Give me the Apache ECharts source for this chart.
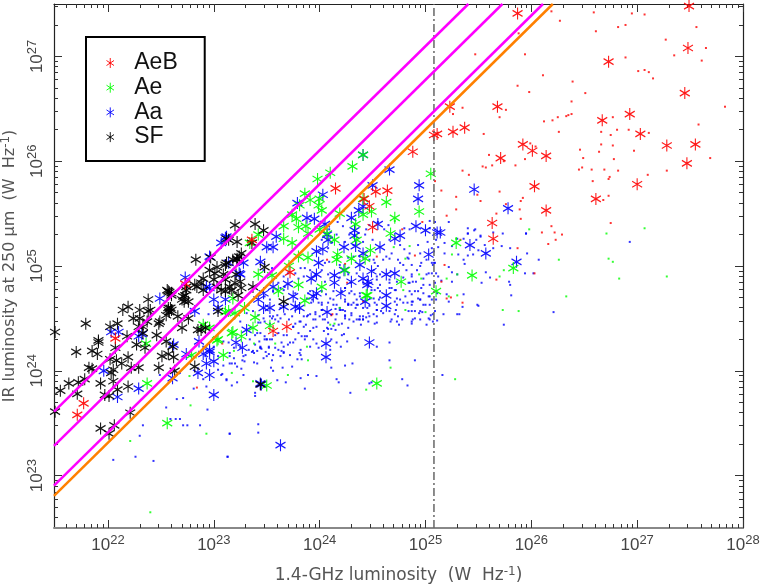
<!doctype html>
<html lang="en">
<head>
<meta charset="UTF-8">
<title>IR vs radio luminosity</title>
<script src="https://cdn.jsdelivr.net/npm/echarts@6/dist/echarts.min.js"></script>
<style>html,body{margin:0;padding:0;background:#fff}#main{width:763px;height:586px}</style>
</head>
<body>
<div id="main"></div>
<script>
// every point is [log10 L_1.4GHz, log10 L_250um]
var aebStars = [[25.87,27.41],[27.49,27.48],[27.48,27.08],[26.73,26.95],[27.45,26.65],[26.93,26.45],[26.67,26.39],[25.68,26.52],[25.23,26.52],[25.37,26.32],[25.26,26.28],[25.11,26.26],[25.08,26.25],[27.03,26.26],[27.28,26.15],[27.55,26.16],[27.47,25.98],[25.92,26.16],[26.01,26.10],[26.14,26.05],[25.71,26.03],[27.0,25.78],[26.03,25.76],[26.61,25.64],[26.14,25.53],[25.63,25.41],[25.64,25.26],[24.88,26.09],[24.15,25.74],[24.53,25.71],[24.64,25.72],[24.42,25.64],[24.47,25.57],[24.5,25.37],[23.36,25.25],[23.72,24.94],[23.56,24.38],[23.69,24.42],[22.07,24.31],[22.73,24.83],[21.71,23.58],[21.77,23.69]];
var aebDots = [[26.19,27.43],[26.27,27.34],[26.59,27.42],[26.95,27.41],[27.07,27.40],[26.61,27.24],[26.82,27.28],[26.89,27.30],[27.56,27.28],[27.27,27.16],[27.65,27.08],[25.88,27.22],[25.47,27.02],[25.94,27.02],[26.89,26.99],[27.35,27.01],[27.61,26.96],[27.01,26.86],[27.07,26.87],[27.11,26.85],[27.15,26.79],[26.11,26.82],[26.39,26.76],[25.87,26.72],[25.98,26.66],[26.51,26.65],[26.38,26.57],[27.83,26.52],[25.35,26.51],[25.76,26.49],[25.26,26.45],[26.38,26.45],[26.33,26.43],[26.35,26.44],[26.25,26.42],[26.20,26.39],[26.12,26.38],[25.70,26.42],[26.77,26.42],[27.58,26.35],[26.81,26.30],[26.92,26.30],[27.11,26.27],[26.66,26.28],[26.75,26.25],[26.26,26.28],[25.55,26.26],[26.66,26.16],[26.77,26.15],[25.99,26.17],[26.04,26.14],[26.46,26.11],[26.97,26.10],[26.64,26.09],[25.60,26.06],[26.49,26.03],[26.78,26.02],[27.69,26.03],[25.94,26.02],[25.74,26.00],[25.85,25.96],[25.63,25.96],[25.54,25.95],[25.57,25.94],[26.45,25.92],[26.48,25.94],[26.57,25.92],[26.69,25.92],[26.82,25.91],[27.28,25.91],[25.35,25.91],[25.41,25.87],[27.10,25.87],[26.74,25.85],[26.73,25.83],[26.58,25.81],[25.09,25.81],[25.15,25.72],[25.70,25.71],[26.73,25.67],[25.49,25.68],[25.29,25.66],[25.92,25.65],[25.90,25.62],[26.68,25.63],[25.52,25.62],[25.76,25.59],[25.89,25.54],[25.29,25.54],[25.67,25.50],[25.20,25.48],[25.90,25.45],[26.75,25.41],[26.19,25.38],[26.10,25.32],[26.22,25.32],[26.29,25.30],[26.16,25.21],[26.23,25.25],[25.87,25.17],[25.33,25.25],[26.03,24.93],[25.67,24.87],[25.18,25.01],[25.15,24.85],[25.20,24.69],[25.24,24.70],[25.35,24.65],[24.78,25.35],[24.97,25.42],[24.90,25.10],[24.07,25.06],[24.24,25.02],[24.26,24.84],[24.41,24.66],[24.12,24.54],[24.54,25.09],[24.11,24.53],[23.08,24.26],[22.84,23.84]];
var aeStars = [[24.31,25.95],[24.10,25.89],[23.98,25.83],[24.41,26.06],[25.05,25.88],[23.86,25.69],[23.91,25.63],[24.0,25.64],[23.99,25.58],[24.02,25.53],[23.81,25.58],[23.74,25.49],[23.78,25.45],[23.66,25.38],[23.80,25.37],[23.87,25.38],[24.0,25.35],[23.66,25.26],[23.74,25.22],[23.89,25.31],[23.42,25.30],[23.34,25.22],[24.63,25.61],[24.41,25.64],[24.49,25.52],[24.19,25.50],[24.71,25.46],[24.94,25.52],[24.67,25.31],[24.34,25.40],[24.41,25.49],[24.14,25.25],[24.07,25.31],[24.17,25.11],[24.16,25.06],[24.35,25.25],[24.30,25.07],[24.48,25.15],[24.43,25.07],[23.80,25.09],[23.89,25.08],[23.71,25.0],[23.42,24.92],[23.55,24.91],[23.80,24.82],[24.02,24.80],[23.61,24.76],[24.77,24.85],[24.44,24.72],[25.10,24.76],[24.24,24.96],[25.29,25.22],[25.44,24.91],[25.83,24.98],[23.18,24.37],[23.26,24.33],[23.37,24.41],[23.39,24.51],[23.53,24.43],[23.14,24.57],[23.09,24.15],[23.50,23.86],[24.54,23.88],[24.45,24.72],[23.86,24.67],[22.37,23.88],[22.56,23.50],[23.03,24.29],[23.17,24.36],[22.36,24.26],[23.18,24.69],[23.11,24.56],[22.90,24.44],[22.96,24.41],[23.20,24.55],[23.04,24.30],[23.29,24.60],[22.79,24.15]];
var aeDots = [[26.71,25.31],[26.73,25.07],[26.77,25.04],[26.26,25.06],[26.83,24.88],[27.28,24.90],[26.33,24.71],[25.73,24.58],[25.88,24.57],[25.28,23.92],[25.74,24.96],[25.70,24.90],[25.30,24.92],[25.20,24.88],[25.30,24.72],[25.22,24.71],[25.25,25.11],[25.98,25.35],[27.07,25.36],[25.29,25.26],[22.40,22.65],[22.21,23.33],[22.93,23.40],[22.78,23.67],[22.77,23.95],[23.88,24.23],[23.89,24.10],[24.67,24.03],[23.70,23.96],[24.44,23.82],[23.17,23.98],[23.19,24.19],[23.58,24.26],[23.38,24.26],[24.14,24.45],[25.0,24.56],[24.81,24.58],[23.37,23.90],[24.81,25.07],[24.85,25.19],[24.70,25.18],[24.94,24.92],[24.96,24.88],[24.71,25.43],[24.79,24.77],[24.19,24.60],[24.10,24.44]];
var aaStars = [[25.46,25.73],[25.78,25.55],[25.14,25.32],[25.42,25.20],[25.57,25.12],[25.86,25.04],[24.41,26.06],[24.66,25.92],[24.50,25.77],[24.94,25.77],[24.93,25.64],[24.03,25.68],[23.79,25.60],[23.88,25.46],[23.95,25.45],[24.37,25.53],[24.30,25.46],[24.41,25.57],[24.55,25.40],[24.91,25.38],[25.0,25.34],[25.11,25.32],[24.05,25.40],[24.33,25.34],[24.33,25.29],[24.07,25.30],[24.08,25.25],[23.59,25.28],[23.56,25.18],[23.50,25.18],[24.71,25.26],[24.76,25.29],[23.97,25.14],[24.03,25.16],[24.23,25.18],[24.34,25.19],[24.57,25.18],[25.03,25.11],[23.99,25.03],[24.38,25.01],[24.23,24.96],[24.63,24.92],[24.71,24.93],[24.14,24.91],[24.41,24.88],[24.46,24.85],[23.92,24.88],[23.70,24.83],[23.97,24.92],[23.97,24.74],[24.20,24.74],[23.94,24.71],[23.56,24.80],[23.47,24.74],[24.63,24.72],[23.75,24.71],[24.63,24.62],[24.07,24.56],[23.47,24.60],[23.42,24.68],[23.66,24.61],[23.77,24.61],[23.81,24.60],[23.31,24.39],[23.21,24.27],[23.27,24.22],[24.06,24.26],[24.47,24.27],[24.06,24.13],[23.44,23.88],[23.45,23.87],[23.63,23.29],[23.44,25.04],[23.25,24.92],[23.00,24.68],[23.11,24.68],[23.28,25.03],[23.53,24.60],[22.96,24.18],[21.96,24.0],[22.29,23.83],[22.09,23.75],[22.62,24.25],[22.74,24.16],[22.85,23.98],[22.96,23.96],[22.93,24.07],[23.0,24.09],[22.96,24.20],[22.90,24.16],[22.86,24.28],[23.0,23.77],[22.61,23.93],[22.03,24.37],[22.10,24.37],[22.29,24.33],[22.32,24.35],[22.73,24.89],[23.11,25.27],[22.96,25.09],[23.14,25.03],[22.49,24.69],[22.93,24.80],[23.04,24.60],[22.82,24.57],[23.24,24.93],[22.96,24.79],[23.07,25.22],[23.12,25.28],[24.49,24.95],[24.30,24.85],[24.14,24.84],[24.45,24.82],[24.43,24.66],[24.41,25.12]];
var aaDots = [[23.09,24.05],[23.15,24.07],[23.20,24.07],[23.26,24.02],[23.08,23.97],[23.12,23.91],[23.17,23.86],[23.22,23.89],[23.28,23.96],[23.27,24.10],[23.29,24.09],[23.38,24.08],[23.41,24.07],[23.47,24.12],[23.55,24.10],[23.54,24.03],[23.56,24.00],[23.65,24.03],[23.74,24.04],[23.60,23.91],[23.68,23.89],[23.82,23.93],[23.89,23.96],[23.97,23.95],[23.86,23.83],[24.16,23.92],[24.18,23.89],[24.29,23.79],[24.47,23.88],[24.49,23.89],[24.78,23.92],[24.83,23.86],[24.66,24.10],[24.90,24.10],[24.31,24.07],[24.24,24.05],[24.11,24.03],[23.79,24.11],[23.82,24.15],[23.83,24.11],[23.64,24.19],[23.39,23.79],[23.39,23.76],[23.42,23.49],[23.42,23.41],[23.15,23.40],[23.13,23.18],[24.54,24.23],[24.66,24.27],[24.36,24.31],[24.23,24.35],[24.20,24.23],[24.11,24.30],[24.08,24.35],[24.04,24.38],[23.88,24.33],[23.86,24.30],[23.72,24.27],[23.55,24.30],[23.50,24.30],[23.48,24.30],[23.43,24.28],[23.44,24.22],[23.45,24.21],[23.36,24.18],[23.38,24.17],[23.49,24.18],[23.52,24.16],[23.66,24.18],[23.15,24.14],[23.30,24.15],[23.41,24.36],[23.53,24.45],[23.61,24.47],[23.77,24.45],[23.87,24.44],[23.94,24.49],[24.0,24.52],[24.08,24.40],[24.11,24.40],[24.21,24.45],[24.32,24.47],[24.37,24.49],[24.41,24.49],[24.52,24.45],[24.75,24.44],[24.87,24.45],[25.01,24.44],[24.94,24.55],[24.97,24.56],[24.88,24.49],[24.78,24.49],[24.67,24.47],[24.46,24.55],[24.44,24.51],[24.38,24.52],[24.30,24.53],[24.24,24.57],[24.19,24.60],[24.15,24.59],[24.02,24.63],[23.96,24.56],[23.91,24.54],[23.85,24.52],[23.71,24.49],[23.60,24.53],[23.56,24.52],[23.74,24.52],[24.73,24.69],[24.56,24.68],[24.35,24.68],[24.27,24.64],[24.13,24.68],[23.93,24.68],[23.88,24.69],[24.87,24.66],[24.93,24.69],[24.98,24.63],[25.06,24.68],[24.48,24.69],[24.45,24.60],[24.34,24.60],
[24.09,25.35],[24.17,25.42],[24.22,25.38],[24.28,25.30],[24.43,25.30],[24.41,25.23],[24.50,25.25],[24.44,25.35],[24.61,25.35],[24.66,25.25],[24.76,25.20],[24.80,25.16],[24.85,25.12],[24.83,25.08],[24.93,25.20],[25.02,25.23],[25.10,25.25],[24.95,25.12],[25.01,25.06],[25.09,25.03],[25.10,24.93],[25.01,24.92],[24.95,25.0],[24.87,25.01],[24.82,24.96],[24.79,25.01],[24.74,25.06],[24.68,25.12],[24.63,25.09],[24.55,25.0],[24.52,25.03],[24.47,25.06],[24.32,25.09],[24.27,25.08],[24.19,25.01],[24.09,25.04],[24.05,25.03],[24.02,24.96],[24.08,24.92],[24.05,24.85],[24.19,24.89],[24.27,24.92],[24.35,24.93],[24.54,24.90],[24.57,24.82],[24.66,24.87],[24.79,24.89],[24.87,24.90],[24.85,24.84],[24.91,24.85],[24.98,24.82],[25.04,24.82],[25.09,24.84],[24.52,24.77],[24.57,24.76],[24.68,24.79],[24.72,24.77],[24.85,24.76],[24.90,24.76],[24.98,24.74],[25.04,24.71],[25.10,24.68],[24.95,24.68],[24.88,24.66],[24.83,24.65],[24.76,24.68],[24.71,24.66],[24.57,24.70],[24.52,24.65],[24.38,24.74],[24.33,24.73],[24.28,24.74],[24.24,24.79],[24.13,24.76],[24.06,24.73],[24.02,24.76],[24.08,24.65],[24.16,24.63],[24.27,24.63],[24.32,24.65],[24.36,24.63],[24.47,24.62],[24.54,24.58],[24.58,24.57],[24.66,24.57],[24.72,24.58],[24.87,24.57],[24.95,24.57],[25.04,24.63],[25.09,24.57],[25.04,24.49],[24.90,24.50],[24.74,24.52],[24.68,24.49],[24.54,24.52],[24.47,24.52],[24.41,24.49],[24.38,24.49],[24.28,24.49],[24.24,24.52],[24.16,24.54],[24.20,24.58],[24.08,24.46],[24.13,24.43],[24.03,24.49],[24.39,24.44],[24.02,24.65],[24.02,24.58],[25.09,25.42],[25.09,25.35],[25.04,25.36],[24.85,25.35],[24.80,25.36],[24.65,25.39],[24.55,25.42],[24.47,25.39],[24.32,25.20],[24.24,25.23],[24.16,25.30],[24.11,25.22],[24.08,25.17],[24.02,25.25],
[23.47,24.96],[23.52,24.92],[23.55,24.98],[23.61,24.84],[23.66,24.90],[23.70,24.93],[23.77,24.93],[23.85,24.90],[23.96,24.92],[23.91,24.96],[23.82,24.98],[23.56,24.76],[23.63,24.79],[23.67,24.80],[23.48,24.71],[23.53,24.68],[23.63,24.60],[23.67,24.54],[23.55,24.50],[23.48,24.47],[23.42,24.46],[23.44,24.36],[23.48,24.33],[23.53,24.30],[23.61,24.36],[23.66,24.34],[23.75,24.42],[23.82,24.47],[23.88,24.52],[23.96,24.54],[23.97,24.42],[23.91,24.38],[23.83,24.33],[23.77,24.30],[23.70,24.25],[23.64,24.27],[23.58,24.22],[23.52,24.23],[23.44,24.22],[23.37,24.19],[23.33,24.20],[23.19,24.22],[23.14,24.27],[23.09,24.28],[23.0,24.23],[22.92,24.14],[23.19,24.12],[23.28,24.14],[23.50,24.14],[23.56,24.15],[23.63,24.14],[23.72,24.15],[23.82,24.20],[23.91,24.23],[23.97,24.26],[23.04,24.14],[22.98,24.17],[22.90,24.23],[23.34,24.30],[23.39,24.25],[23.19,24.50],[23.25,24.47],[23.31,24.55],[23.06,24.47],[22.95,24.54],
[22.05,23.15],[22.26,23.18],[22.43,23.14],[23.13,23.18],[23.15,23.40],[22.30,23.38],[22.33,23.48],[22.55,23.65],[22.59,23.54],[22.64,23.54],[22.68,23.54],[22.71,23.48],[22.75,23.48],[22.87,23.48],[22.94,23.63],[22.65,23.73],[22.71,23.74],[22.81,23.83],[22.68,23.98],[22.49,23.96],[23.17,24.07],[23.22,24.04],[23.12,23.92],[23.07,23.96],[23.04,24.01],[22.90,23.92],[22.93,23.85],[23.25,24.22],[23.15,24.17],
[23.86,24.98],[23.89,24.74],[23.77,24.74],[23.66,24.77],[23.80,24.88],
[25.40,25.31],[25.46,25.34],[25.95,25.31],[26.93,25.23],[25.52,25.29],[25.48,25.25],[25.36,25.26],[25.30,25.26],[25.18,25.22],[25.12,25.18],[25.06,25.17],[25.08,25.14],[25.18,25.12],[25.25,25.19],[25.31,25.11],[25.36,25.06],[25.40,25.10],[25.45,25.11],[25.50,25.15],[25.56,25.20],[25.64,25.17],[25.72,25.19],[25.80,25.17],[25.96,25.12],[26.07,25.06],[25.06,25.03],[25.08,25.03],[25.37,25.02],[25.22,24.99],[25.25,24.94],[25.30,24.92],[25.57,24.94],[25.61,24.89],[25.53,24.84],[25.79,24.85],[25.80,24.82],[25.94,24.93],[26.02,24.93],[25.81,24.72],[26.21,24.56],[25.74,24.44],[25.49,24.63],[25.50,24.62],[25.36,24.73],[25.35,24.61],[25.32,24.54],[25.30,24.54],[25.17,24.54],[25.11,24.48],[25.05,24.53],[25.20,24.73],[25.22,24.66],[25.11,24.74],[25.25,24.85],[25.15,24.86],[25.12,24.90],[25.06,24.93],[25.16,23.96],
[25.40,25.36],[25.47,25.35],[25.22,25.42],[25.04,25.43],[25.95,25.31],[25.73,25.31],[25.64,25.32],[25.52,25.28],[25.40,25.31]];
var aaDotsDense = [[23.91,24.76],[23.92,24.65],[23.99,24.65],[24.02,24.58],[23.89,24.53],[23.96,24.49],[24.05,24.49],[24.15,24.49],[24.24,24.53],[24.19,24.58],[24.13,24.63],[24.24,24.68],[24.27,24.63],[24.10,24.69],[23.81,24.47],[23.75,24.42],[23.63,24.50],[23.58,24.49],[23.53,24.52],[23.47,24.50],[23.42,24.53],[23.37,24.57],[23.44,24.46],[23.39,24.34],[23.50,24.30],[23.44,24.23],[23.52,24.22],[23.61,24.20],[23.66,24.23],[23.75,24.27],[23.80,24.36],[23.86,24.33],[23.94,24.30],[23.99,24.22],[24.10,24.20],[24.16,24.27],[24.21,24.34],[24.15,24.39],[24.07,24.41],[23.94,24.41],[23.85,24.42],[23.69,24.34],[23.58,24.34],[23.66,24.17],[23.81,24.17],[24.18,24.44],[24.27,24.41],[24.26,24.28],[23.41,24.19],
[24.60,25.06],[24.66,25.07],[24.76,25.03],[24.84,25.07],[24.96,25.03],[24.92,24.96],[24.87,24.92],[24.98,24.88],[25.03,24.93],[25.07,25.01],[24.57,24.92],[24.51,24.96],[24.54,24.87],[24.66,24.84],[24.73,24.85],[24.84,24.84],[24.88,24.85],[24.96,24.79],[24.93,24.76],[24.87,24.73],[24.81,24.71],[24.71,24.77],[24.66,24.79],[24.55,24.79],[24.49,24.77],[24.38,24.71],[24.30,24.76],[24.24,24.66],[24.22,24.58],[24.30,24.63],[24.35,24.63],[24.41,24.60],[24.51,24.69],[24.54,24.63],[24.54,24.58],[24.73,24.63],[24.79,24.65],[24.87,24.63],[24.95,24.68],[25.03,24.71],[25.0,24.63],[24.90,24.57],[24.84,24.57],[24.71,24.54],[24.60,24.55],[24.51,24.54],[24.41,24.52],[24.30,24.55],[24.24,24.50],[24.35,24.49],[24.46,24.47],[24.54,24.46],[24.73,24.47],[24.87,24.47],[24.95,24.49],[25.03,24.50],[24.24,24.79],[24.21,24.76],[24.29,24.84],[24.38,25.09],[24.51,25.06],[25.07,24.54],[25.07,24.47]];
var sfStars = [[21.50,23.61],[21.55,23.81],[21.63,23.88],[21.71,23.78],[21.72,23.89],[21.78,23.92],[21.93,23.88],[21.97,23.77],[22.01,23.76],[22.09,23.82],[22.19,23.85],[22.21,23.60],[21.93,23.45],[22.06,23.48],[22.01,23.40],[22.05,23.90],[21.70,24.18],[21.85,24.19],[21.91,24.27],[21.90,24.16],[21.82,24.03],[21.85,24.02],[22.02,24.11],[22.08,24.10],[22.05,24.01],[22.03,23.98],[22.19,24.13],[22.13,24.07],[22.22,24.03],[22.29,24.03],[22.48,24.03],[22.63,24.0],[22.82,24.04],[22.51,24.14],[22.57,24.16],[22.62,24.13],[22.55,24.28],[22.61,24.23],[21.50,24.37],[22.07,24.22],[22.27,24.25],[22.35,24.22],[22.46,24.34],[22.33,24.36],[22.18,24.33],[21.79,24.45],[21.91,24.29],[22.02,24.42],[22.09,24.45],[22.14,24.58],[22.19,24.61],[22.30,24.58],[22.38,24.68],[22.24,24.50],[22.30,24.50],[22.38,24.57],[22.37,24.47],[22.29,24.42],[22.48,24.45],[22.57,24.76],[22.60,24.74],[22.59,24.60],[22.57,24.58],[22.55,24.53],[22.66,24.52],[22.71,24.71],[22.72,24.66],[22.70,24.41],[22.83,25.06],[22.97,25.08],[23.03,24.99],[22.96,24.96],[22.90,24.88],[23.20,25.39],[23.14,25.25],[23.22,25.23],[23.11,24.87],[23.03,24.80],[22.84,24.80],[22.90,24.77],[23.07,24.77],[23.17,24.77],[22.74,24.77],[23.18,25.06],[23.21,24.92],[23.01,24.93],[23.00,24.87],[22.82,24.82],[22.88,24.84],[22.74,24.80],[22.73,24.72],[22.70,24.68],[22.76,24.66],[22.76,24.50],[22.49,24.47],[22.40,24.58],[22.33,24.42],[22.85,24.39],[23.12,25.03],[23.22,25.07],[23.26,25.12],[23.09,24.92],[23.25,24.85],[23.20,24.84],[23.15,24.80],[23.26,24.79],[23.23,24.72],[23.11,24.76],[23.66,24.66],[22.92,24.41],[22.88,24.39],[23.04,24.57],[23.39,25.40],[23.47,25.34],[23.12,25.26],[23.36,25.22],[23.24,25.09],[23.22,25.06],[23.11,25.01],[23.48,24.99],[23.37,24.80],[23.44,23.87],[22.58,24.75],[22.56,24.77],[22.60,24.72],[22.57,24.60],[22.60,24.58],[22.58,24.56]];
var magentaTop = [[21.49,23.61],[25.405,27.5]];
var magentaMid = [[21.49,23.283],[25.727,27.5]];
var magentaLow = [[21.49,22.905],[26.11,27.5]];
var orangeCut = [[21.49,22.807],[26.203,27.5]];
var fr1Line = [[25.08,22.5],[25.08,27.5]];
var xExtent = [21.49,28];
var yExtent = [22.5,27.5];
var xDecades = [22,23,24,25,26,27,28];
var yDecades = [23,24,25,26,27];

var starPath = 'path://M5 0L5 12M0.5 3L9.5 9M0.5 9L9.5 3';
var labelFont = '"Liberation Sans", Arial, sans-serif';
var nameFont = '"DejaVu Sans", sans-serif';

function lum(list){
  return list.map(function(p){ return [Math.pow(10,p[0]),Math.pow(10,p[1])]; });
}
function minorTicks(extent){
  var out = [];
  for(var d=Math.floor(extent[0]);d<Math.ceil(extent[1]);d++){
    for(var m=2;m<10;m++){
      var v = m*Math.pow(10,d);
      if(Math.log10(v)>=extent[0] && Math.log10(v)<=extent[1]) out.push(v);
    }
  }
  return out;
}
function powers(list){ return list.map(function(d){ return Math.pow(10,d); }); }
var richSup = {
  b:{fontSize:17,color:'#444',fontFamily:labelFont},
  s:{fontSize:13,color:'#444',fontFamily:labelFont,padding:[0,0,9,0]}
};
function powerLabel(v){ return '{b|10}{s|'+Math.round(Math.log10(v))+'}'; }

function makeAxis(extent,position,ticks,len,withLine,labelled){
  var ax = {
    type:'log',
    gridIndex:0,
    position:position,
    min:Math.pow(10,extent[0]),
    max:Math.pow(10,extent[1]),
    axisLine:{show:withLine,onZero:false,lineStyle:{color:'#222',width:1.2}},
    axisTick:{show:true,inside:true,length:len,customValues:ticks,lineStyle:{color:'#333',width:1}},
    axisLabel:{show:false},
    splitLine:{show:false},
    minorTick:{show:false},
    minorSplitLine:{show:false}
  };
  if(labelled){
    ax.axisLabel = {show:true,customValues:ticks,formatter:powerLabel,rich:richSup,margin:6,hideOverlap:false};
  }
  return ax;
}

var xMajor = powers(xDecades), xMinor = minorTicks(xExtent);
var yMajor = powers(yDecades), yMinor = minorTicks(yExtent);

var xAxes = [
  makeAxis(xExtent,'bottom',xMajor,8,true,true),
  makeAxis(xExtent,'bottom',xMinor,4,false,false),
  makeAxis(xExtent,'top',xMajor,8,true,false),
  makeAxis(xExtent,'top',xMinor,4,false,false)
];
var yAxes = [
  makeAxis(yExtent,'left',yMajor,8,true,true),
  makeAxis(yExtent,'left',yMinor,4,false,false),
  makeAxis(yExtent,'right',yMajor,8,true,false),
  makeAxis(yExtent,'right',yMinor,4,false,false)
];
xAxes[0].axisLine.lineStyle = {color:'#888',width:2};
xAxes[0].name = '1.4-GHz luminosity  (W  Hz{s|-1})';
xAxes[0].nameLocation = 'middle';
xAxes[0].nameGap = 38;
xAxes[0].nameTextStyle = {fontSize:17,color:'#555',fontFamily:nameFont,rich:{s:{fontSize:12,color:'#555',fontFamily:nameFont,padding:[0,0,8,0]}}};
yAxes[0].axisLabel.rotate = 90;
yAxes[0].name = 'IR luminosity at 250 \u00b5m  (W  Hz{s|-1})';
yAxes[0].nameLocation = 'middle';
yAxes[0].nameGap = 30;
yAxes[0].nameTextStyle = {fontSize:16,color:'#555',fontFamily:nameFont,rich:{s:{fontSize:12,color:'#555',fontFamily:nameFont,padding:[0,0,8,0]}}};

function dots(list,col){
  return {type:'scatter',data:lum(list),symbol:'rect',symbolSize:2,itemStyle:{color:col},silent:true,z:2};
}
function stars(name,list,col,z){
  return {type:'scatter',name:name,data:lum(list),symbol:starPath,symbolSize:[10,12],
    itemStyle:{color:col,borderColor:col,borderWidth:1.2,opacity:0.9},silent:true,z:z};
}
function line(list,col,width){
  return {type:'line',data:lum(list),showSymbol:false,silent:true,z:6,lineStyle:{color:col,width:width}};
}

var option = {
  animation:false,
  backgroundColor:'#fff',
  grid:{left:54,right:20,top:4,bottom:58,containLabel:false,outerBoundsMode:'none'},
  xAxis:xAxes,
  yAxis:yAxes,
  legend:{
    show:true,
    left:86,top:37,
    orient:'vertical',
    data:[
      {name:'AeB',icon:starPath,itemStyle:{color:'#f00',borderColor:'#f00',borderWidth:1}},
      {name:'Ae',icon:starPath,itemStyle:{color:'#0f0',borderColor:'#0f0',borderWidth:1}},
      {name:'Aa',icon:starPath,itemStyle:{color:'#00f',borderColor:'#00f',borderWidth:1}},
      {name:'SF',icon:starPath,itemStyle:{color:'#000',borderColor:'#000',borderWidth:1}}
    ],
    itemWidth:38,itemHeight:10,itemGap:1.7,
    padding:[14.5,27,12.4,20],
    borderColor:'#000',borderWidth:2,backgroundColor:'#fff',
    selectedMode:false,
    textStyle:{fontSize:23,color:'#111',fontFamily:labelFont},
    z:10
  },
  series:[
    dots(aaDots.concat(aaDotsDense),'#00f'),
    dots(aeDots,'#0f0'),
    dots(aebDots,'#f00'),
    stars('Aa',aaStars,'#00f',3),
    stars('Ae',aeStars,'#0f0',3),
    stars('SF',sfStars,'#000',3),
    stars('AeB',aebStars,'#f00',4),
    line(fr1Line,'#666',1.5),
    line(magentaTop,'#f0f',2.5),
    line(magentaMid,'#f0f',2.5),
    line(magentaLow,'#f0f',2.5),
    line(orangeCut,'#ff8000',2.5)
  ]
};
option.series[7].lineStyle.type = [8,3,2,3];

var myChart = echarts.init(document.getElementById('main'));
myChart.setOption(option);
</script>
</body>
</html>
